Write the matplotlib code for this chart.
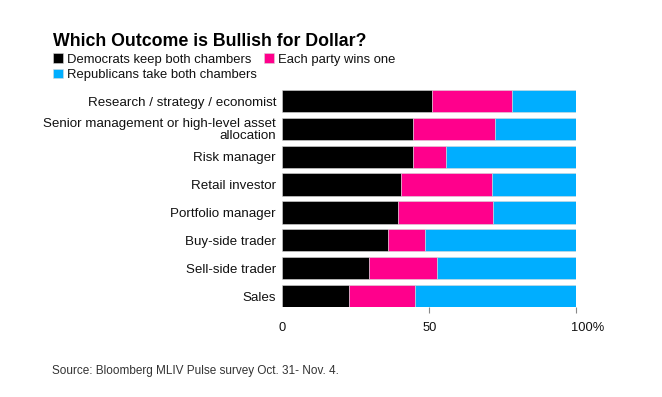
import numpy as np
import matplotlib.pyplot as plt
import matplotlib.transforms as mtransforms

plt.rcParams['font.family'] = ['Liberation Sans', 'DejaVu Sans']

# data (percent of respondents)
categories = ['Research / strategy / economist',
              'Senior management or high-level asset\nallocation',
              'Risk manager', 'Retail investor', 'Portfolio manager',
              'Buy-side trader', 'Sell-side trader', 'Sales']
democrats = [51.0, 44.5, 44.5, 40.4, 39.2, 35.8, 29.4, 22.7]
each_party = [27.0, 27.8, 11.1, 30.9, 32.5, 12.7, 23.3, 22.5]
republicans = [22.0, 27.7, 44.4, 28.7, 28.3, 51.5, 47.3, 54.8]
series_names = ['Democrats keep both chambers', 'Each party wins one',
                'Republicans take both chambers']
colors = ['#000000', '#ff008c', '#00aeff']

fig = plt.figure(figsize=(6.62, 3.97), dpi=100)
ax = fig.add_axes([0.4264, 0.2262, 0.4441, 0.5474])

y = np.arange(len(categories))
left = np.zeros(len(categories))
bars = []
for vals, name, c in zip([democrats, each_party, republicans], series_names, colors):
    b = ax.barh(y, vals, left=left, height=0.8, color=c, label=name,
                edgecolor='#d8d8d8', linewidth=0.4)
    bars.append(b)
    left = left + np.array(vals)

ax.set_ylim(7.4, -0.4)
ax.set_xlim(0, 100)
ax.set_yticks(y)
ax.set_yticklabels(categories, fontsize=9.6, color='#111111', linespacing=0.95)
ax.set_xticks([0, 50, 100])
ax.set_xticklabels(['0', '50', '100%'], fontsize=9.3, color='#111111')
ax.tick_params(axis='y', length=0, pad=4.5)
ax.tick_params(axis='x', length=4, width=0.8, color='#888888', pad=6.5)
ax.xaxis.get_major_ticks()[0].tick1line.set_visible(False)
# the "100%" label sits a bit right of its tick
lab = ax.get_xticklabels()[-1]
lab.set_transform(lab.get_transform() +
                  mtransforms.ScaledTranslation(11 / 100, 0, fig.dpi_scale_trans))
for s in ax.spines.values():
    s.set_visible(False)

fig.text(0.080, 0.885, 'Which Outcome is Bullish for Dollar?', fontsize=12.8,
         fontweight='bold', color='#000000', va='baseline')

leg = fig.legend([bars[0], bars[2], bars[1]],
                 [series_names[0], series_names[2], series_names[1]],
                 ncol=2, loc='upper left', bbox_to_anchor=(0.080, 0.866),
                 frameon=False, fontsize=9.4, handlelength=0.75, handleheight=0.75,
                 handletextpad=0.3, columnspacing=0.6, borderpad=0, borderaxespad=0,
                 labelspacing=0.25)
for t in leg.get_texts():
    t.set_color('#111111')

fig.text(0.078, 0.066, 'Source: Bloomberg MLIV Pulse survey Oct. 31- Nov. 4.',
         fontsize=8.5, color='#333333', va='center')

fig.savefig('out.png', dpi=100)
